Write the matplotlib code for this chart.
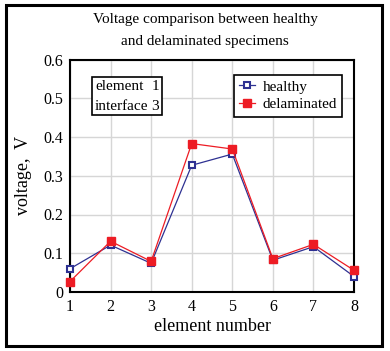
import matplotlib
matplotlib.use('Agg')
import matplotlib.pyplot as plt
from matplotlib.patches import Rectangle

elements = [1, 2, 3, 4, 5, 6, 7, 8]
healthy = [0.060, 0.121, 0.074, 0.327, 0.356, 0.082, 0.117, 0.040]
delaminated = [0.027, 0.131, 0.079, 0.383, 0.369, 0.086, 0.123, 0.056]
y_ticks = [0, 0.1, 0.2, 0.3, 0.4, 0.5, 0.6]
y_labels = ['0', '0.1', '0.2', '0.3', '0.4', '0.5', '0.6']

blue = '#2e3192'
red = '#ed1c24'

plt.rcParams['font.family'] = ['Liberation Serif', 'DejaVu Serif']

W, H = 390, 351
fig = plt.figure(figsize=(W / 100, H / 100), dpi=100)
ax = fig.add_axes([70 / W, 1 - 292 / H, 284 / W, 232.5 / H])

ax.plot(elements, healthy, color=blue, lw=0.9, marker='s', ms=5,
        mfc='white', mec=blue, mew=1.5, label='healthy', zorder=3, clip_on=False)
ax.plot(elements, delaminated, color=red, lw=0.9, marker='s', ms=6,
        mfc=red, mec=red, label='delaminated', zorder=4, clip_on=False)

ax.set_xlim(1, 8)
ax.set_ylim(0, 0.6)
ax.set_xticks(elements)
ax.set_yticks(y_ticks)
ax.set_yticklabels(y_labels)
ax.tick_params(length=0, labelsize=11.5, pad=5)
ax.grid(True, color='#d6d6d6', lw=1)
ax.set_axisbelow(True)
for s in ax.spines.values():
    s.set_linewidth(1.5)

ax.set_xlabel('element number', fontsize=13, labelpad=2)
ax.set_ylabel('voltage,  V', fontsize=13, labelpad=8)

fig.text(205 / W, 1 - 20 / H, 'Voltage comparison between healthy', ha='center', va='center', fontsize=11)
fig.text(205 / W, 1 - 42 / H, 'and delaminated specimens', ha='center', va='center', fontsize=11)

leg = ax.legend(loc='upper right', bbox_to_anchor=(0.958, 0.935), borderaxespad=0,
                fancybox=False, edgecolor='black', framealpha=1, fontsize=11,
                handlelength=1.0, handletextpad=0.5, borderpad=0.35, labelspacing=0.25)
leg.get_frame().set_linewidth(1.2)

# info box on the left
fig.patches.append(Rectangle((92 / W, 1 - 115 / H), 70 / W, 38 / H, transform=fig.transFigure,
                             fill=True, facecolor='white', edgecolor='black', lw=1.2, zorder=5))
fig.text(95 / W, 1 - 87 / H, 'element', ha='left', va='center', fontsize=11, zorder=6)
fig.text(95 / W, 1 - 106 / H, 'interface', ha='left', va='center', fontsize=11, zorder=6)
fig.text(159 / W, 1 - 87 / H, '1', ha='right', va='center', fontsize=11, zorder=6)
fig.text(159 / W, 1 - 106 / H, '3', ha='right', va='center', fontsize=11, zorder=6)

# outer frame
fig.patches.append(Rectangle((6 / W, 1 - 346 / H), 376 / W, 341 / H, transform=fig.transFigure,
                             fill=False, edgecolor='black', lw=2.2))

fig.savefig('out.png', dpi=100)
